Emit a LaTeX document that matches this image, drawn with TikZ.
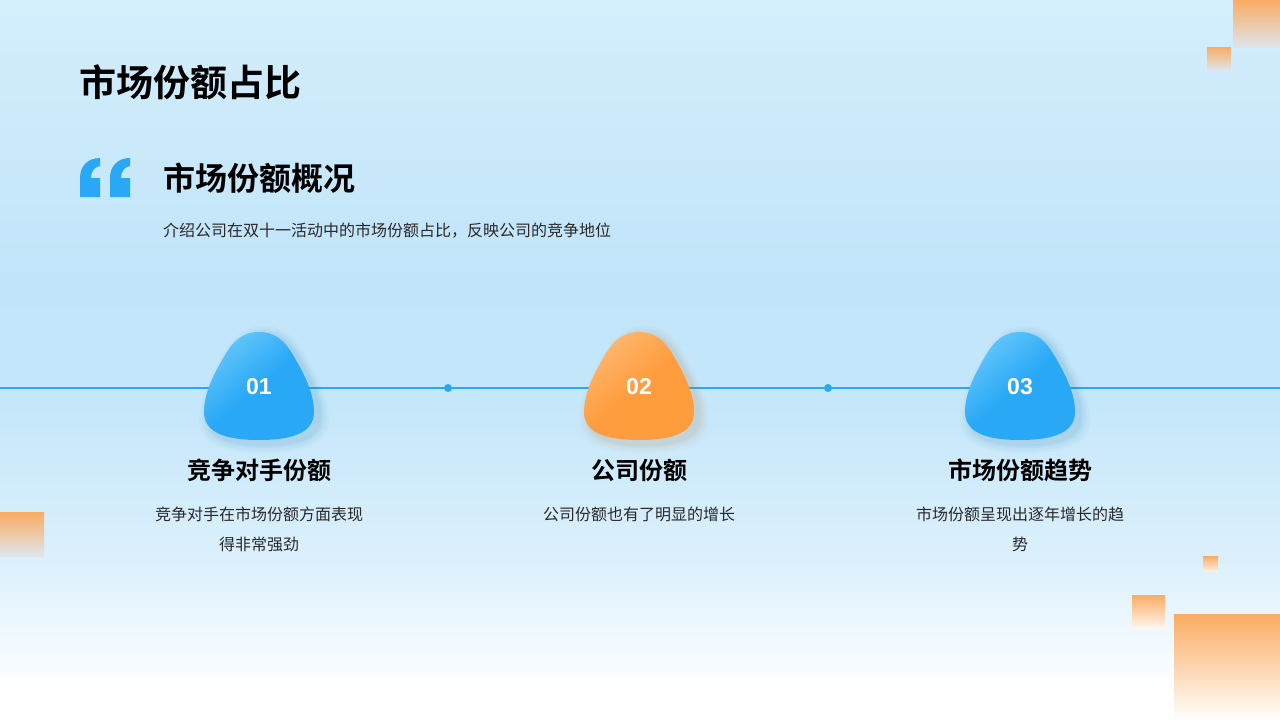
\documentclass[tikz,border=0pt]{standalone}
\usepackage{fontspec}
\setmainfont{Noto Sans CJK SC}[BoldFont={Noto Sans CJK SC Bold}]
\newfontfamily\numfont{Liberation Sans}
\definecolor{accent}{RGB}{41,168,245}
\definecolor{bluelight}{RGB}{98,198,251}
\definecolor{bluedark}{RGB}{41,168,245}
\definecolor{orlight}{RGB}{255,182,110}
\definecolor{ordark}{RGB}{255,157,62}
\definecolor{deco}{RGB}{249,172,98}
\definecolor{decofade}{RGB}{222,229,234}
\definecolor{txt}{RGB}{40,40,40}
\pgfdeclareverticalshading{bgshade}{100bp}{
  color(0bp)=(white);
  color(25bp)=(white);
  color(27bp)=(white);
  color(36bp)=(rgb,255:red,220;green,240;blue,252);
  color(47bp)=(rgb,255:red,197;green,231;blue,250);
  color(55bp)=(rgb,255:red,193;green,228;blue,249);
  color(75bp)=(rgb,255:red,212;green,238;blue,252);
  color(100bp)=(rgb,255:red,212;green,238;blue,252)}
\tikzset{
  titletext/.style={inner sep=0pt, anchor=west, font=\bfseries\fontsize{37}{40}\selectfont, text=black},
  subtext/.style={inner sep=0pt, anchor=west, font=\bfseries\fontsize{32}{36}\selectfont, text=black},
  desctext/.style={inner sep=0pt, anchor=west, font=\fontsize{16}{20}\selectfont, text=txt},
  steptitle/.style={inner sep=0pt, font=\bfseries\fontsize{24}{28}\selectfont, text=black},
  stepdesc/.style={inner sep=0pt, anchor=north, align=center, font=\fontsize{16}{30}\selectfont, text=txt},
  numtext/.style={inner sep=0pt, font=\numfont\bfseries\fontsize{23}{28}\selectfont, text=white},
  decobox/.style={top color=deco, bottom color=decofade},
  dotmark/.style={circle, fill=accent, inner sep=0pt, minimum size=8pt},
}
\newcommand{\blobpath}{(0,-55) .. controls (16,-55) and (26,-46) .. (34,-32) .. controls (44,-15) and (55,5) .. (55,25) .. controls (55,48) and (28,53) .. (0,53) .. controls (-28,53) and (-55,48) .. (-55,25) .. controls (-55,5) and (-44,-15) .. (-34,-32) .. controls (-26,-46) and (-16,-55) .. (0,-55) -- cycle}
\newcommand{\quotemark}{(0,39) -- (0,20) .. controls (0,8) and (8,0) .. (20,0) -- (20,8) .. controls (14,9) and (11,14) .. (11,20) -- (20,20) -- (20,39) -- cycle}
\begin{document}
\begin{tikzpicture}[x=1pt,y=-1pt]
\useasboundingbox (0,0) rectangle (1280,720);
% background
\shade[shading=bgshade] (0,0) rectangle (1280,720);
% decorations
\shade[decobox] (1233,0) rectangle (1280,47);
\shade[decobox] (1207,47) rectangle (1231,70);
\shade[top color=deco, bottom color=decofade] (0,512) rectangle (44,556);
\shade[top color=deco, bottom color=white!80!deco] (1203,556) rectangle (1218,571);
\shade[top color=deco, bottom color=white!90!deco] (1132,595) rectangle (1165,628);
\shade[top color=deco, middle color=deco!55!white, bottom color=white] (1174,614) rectangle (1280,720);
% titles
\node[titletext] (title) at (79,82) {市场份额占比};
\fill[accent, shift={(80,158)}] \quotemark;
\fill[accent, shift={(110,158)}] \quotemark;
\node[subtext] (sub) at (163,178) {市场份额概况};
\node[desctext] (desc) at (163,231) {介绍公司在双十一活动中的市场份额占比，反映公司的竞争地位};
% timeline
\coordinate (lineL) at (0,388);
\coordinate (lineR) at (1280,388);
\draw[accent, line width=1.3pt] (lineL) -- (lineR);
\node[dotmark] (d1) at (448,388) {};
\node[dotmark] (d2) at (828,388) {};
% blobs
\foreach \cx/\cl/\cd in {259/bluelight/bluedark, 639/orlight/ordark, 1020/bluelight/bluedark}{
  \foreach \s/\o in {1.18/0.03,1.13/0.04,1.08/0.05,1.04/0.06}{
    \fill[\cd!70!black, opacity=\o, shift={(\cx+5,391)}, scale=\s] \blobpath;
  }
  \shade[shift={(\cx,387)}, top color=\cl, bottom color=\cd, middle color=\cd, shading angle=40] \blobpath;
}
\node[numtext] (n1) at (259,387) {01};
\node[numtext] (n2) at (639,387) {02};
\node[numtext] (n3) at (1020,387) {03};
% labels
\node[steptitle] (t1) at (259,470) {竞争对手份额};
\node[steptitle] (t2) at (639,470) {公司份额};
\node[steptitle] (t3) at (1020,470) {市场份额趋势};
\node[stepdesc] (s1) at (259,507) {竞争对手在市场份额方面表现\\得非常强劲};
\node[stepdesc] (s2) at (639,507) {公司份额也有了明显的增长};
\node[stepdesc] (s3) at (1020,507) {市场份额呈现出逐年增长的趋\\势};
\end{tikzpicture}
\end{document}
